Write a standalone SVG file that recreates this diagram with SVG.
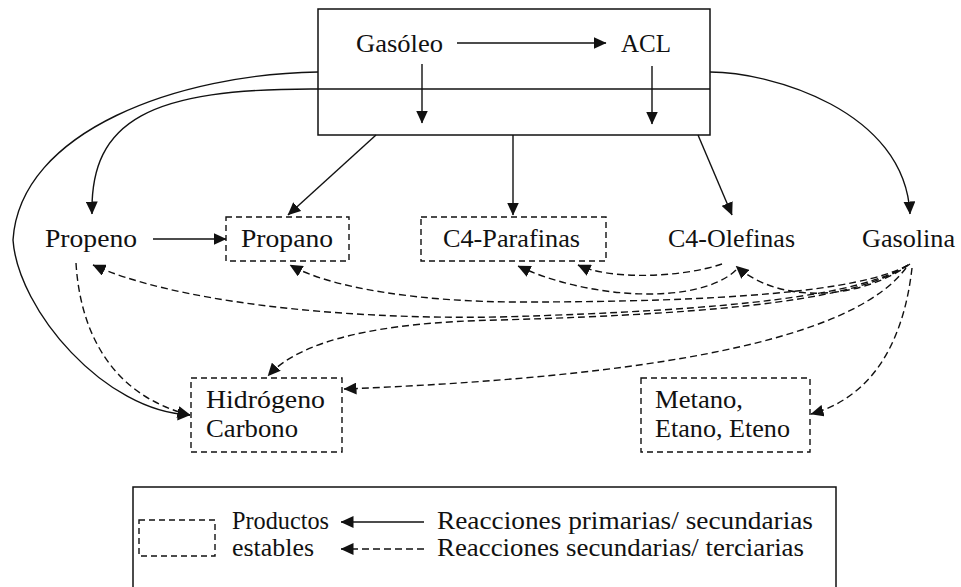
<svg xmlns="http://www.w3.org/2000/svg" width="961" height="587" viewBox="0 0 961 587" font-family="'Liberation Serif', 'DejaVu Serif', serif">
  <style>
    text { font-family: 'Liberation Serif', 'DejaVu Serif', serif; }
    .lbl { font-size: 25px; fill: #111; }
    .box { fill: none; stroke: #111; stroke-width: 1.5; }
    .dbox { fill: none; stroke: #111; stroke-width: 1.4; stroke-dasharray: 6 4; }
    .solid { fill: none; stroke: #111; stroke-width: 1.4; }
    .dash { fill: none; stroke: #111; stroke-width: 1.4; stroke-dasharray: 7 4; }
    .arr { marker-end: url(#head); }
  </style>
  <defs>
    <marker id="head" markerUnits="userSpaceOnUse" markerWidth="13" markerHeight="12" refX="12.5" refY="6" orient="auto" viewBox="0 0 13 12">
      <path d="M0,0 L13,6 L0,12 z" fill="#111" stroke="none"/>
    </marker>
  </defs>
  <rect width="961" height="587" fill="#fff"/>

  <!-- reactor block: feed and light cycle oil -->
  <g id="reactor">
    <rect class="box" x="318" y="9" width="392" height="126"/>
    <line class="solid" x1="318" y1="89" x2="710" y2="89"/>
  </g>
  <g id="gasoleo">
    <text class="lbl" x="356" y="52" textLength="87" lengthAdjust="spacingAndGlyphs">Gasóleo</text>
  </g>
  <g id="acl">
    <text class="lbl" x="621" y="52" textLength="50" lengthAdjust="spacingAndGlyphs">ACL</text>
  </g>

  <!-- product nodes -->
  <g id="propeno">
    <text class="lbl" x="45" y="247" textLength="92" lengthAdjust="spacingAndGlyphs">Propeno</text>
  </g>
  <g id="propano">
    <rect class="dbox" x="226" y="217" width="123" height="44"/>
    <text class="lbl" x="241" y="247" textLength="92" lengthAdjust="spacingAndGlyphs">Propano</text>
  </g>
  <g id="c4-parafinas">
    <rect class="dbox" x="421" y="217" width="185" height="44"/>
    <text class="lbl" x="443" y="247" textLength="137" lengthAdjust="spacingAndGlyphs">C4-Parafinas</text>
  </g>
  <g id="c4-olefinas">
    <text class="lbl" x="668" y="247" textLength="127" lengthAdjust="spacingAndGlyphs">C4-Olefinas</text>
  </g>
  <g id="gasolina">
    <text class="lbl" x="862" y="247" textLength="93" lengthAdjust="spacingAndGlyphs">Gasolina</text>
  </g>
  <g id="hidrogeno-carbono">
    <rect class="dbox" x="191" y="378" width="151" height="74"/>
    <text class="lbl" x="206" y="408" textLength="119" lengthAdjust="spacingAndGlyphs">Hidrógeno</text>
    <text class="lbl" x="206" y="437" textLength="92" lengthAdjust="spacingAndGlyphs">Carbono</text>
  </g>
  <g id="gases-ligeros">
    <rect class="dbox" x="641" y="378" width="169" height="74"/>
    <text class="lbl" x="655" y="408" textLength="88" lengthAdjust="spacingAndGlyphs">Metano,</text>
    <text class="lbl" x="655" y="437" textLength="135" lengthAdjust="spacingAndGlyphs">Etano, Eteno</text>
  </g>

  <g id="connectors">
    <!-- primary / secondary reactions (solid) -->
    <line class="solid arr" x1="457" y1="43" x2="606" y2="43"/>
    <line class="solid arr" x1="422" y1="64" x2="422" y2="123"/>
    <line class="solid arr" x1="652" y1="66" x2="652" y2="124"/>
    <line class="solid arr" x1="376" y1="135" x2="288" y2="215"/>
    <line class="solid arr" x1="513" y1="135" x2="513" y2="215"/>
    <line class="solid arr" x1="698" y1="135" x2="732" y2="215"/>
    <path class="solid arr" d="M710,72 C770,72 905,110 910,214"/>
    <path class="solid arr" d="M318,89 C150,88 90,120 92,214"/>
    <path class="solid arr" d="M318,72 C180,74 20,130 13,240 C18,310 105,412 190,415"/>
    <line class="solid arr" x1="153" y1="239" x2="226" y2="239"/>

    <!-- secondary / tertiary reactions (dashed) -->
    <path class="dash arr" d="M76,263 C80,330 110,395 190,415"/>
    <path class="dash arr" d="M908,265 C860,292 720,302 520,302 C420,302 330,288 290,265"/>
    <path class="dash arr" d="M908,265 C860,295 740,310 500,317 C330,320 170,300 93,265"/>
    <path class="dash arr" d="M908,265 C860,298 740,313 500,320 C380,322 300,340 268,376"/>
    <path class="dash arr" d="M910,264 C860,300 780,305 736,266"/>
    <path class="dash arr" d="M722,264 C680,278 610,280 578,265"/>
    <path class="dash arr" d="M736,270 C700,305 590,300 518,266"/>
    <path class="dash arr" d="M906,268 C860,330 700,375 344,389"/>
    <path class="dash arr" d="M912,268 C905,330 880,395 811,414"/>
  </g>

  <!-- legend -->
  <g id="legend">
    <rect class="box" x="133" y="487" width="703" height="106"/>
    <rect class="dbox" x="139" y="520" width="76" height="36" stroke-dasharray="5 3"/>
    <text class="lbl" x="232" y="529" textLength="97" lengthAdjust="spacingAndGlyphs">Productos</text>
    <text class="lbl" x="232" y="556" textLength="82" lengthAdjust="spacingAndGlyphs">estables</text>
    <line class="solid arr" x1="424" y1="522" x2="341" y2="522"/>
    <line class="dash arr" x1="424" y1="549" x2="341" y2="549" stroke-dasharray="5 3"/>
    <text class="lbl" x="437" y="529" textLength="376" lengthAdjust="spacingAndGlyphs">Reacciones primarias/ secundarias</text>
    <text class="lbl" x="437" y="556" textLength="367" lengthAdjust="spacingAndGlyphs">Reacciones secundarias/ terciarias</text>
  </g>
</svg>
